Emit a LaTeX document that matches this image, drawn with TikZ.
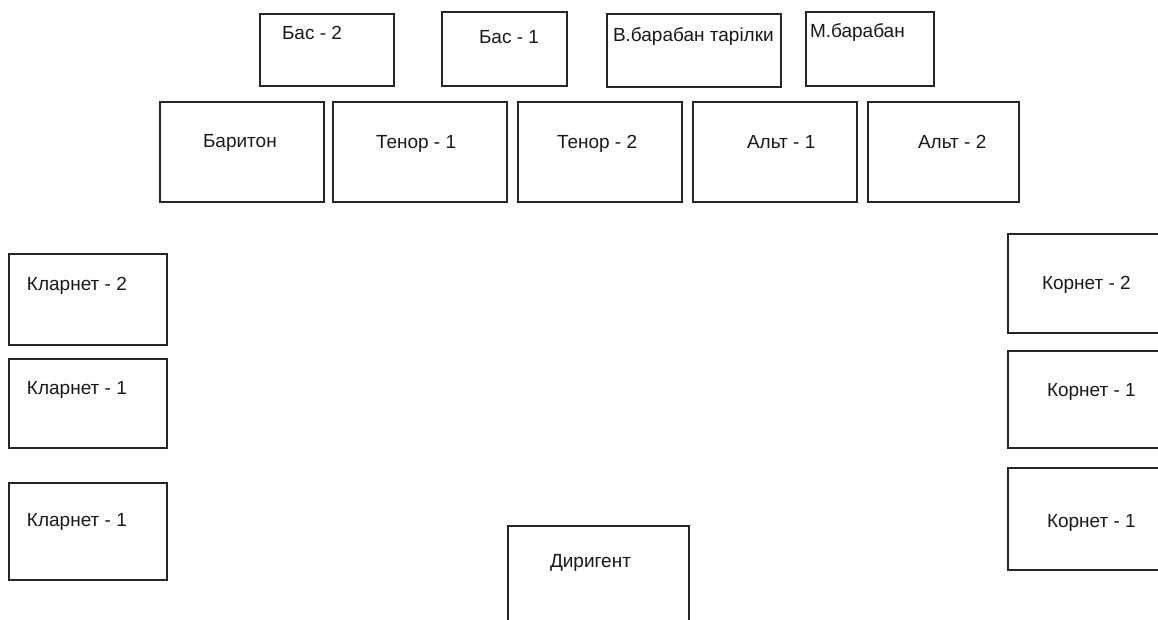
\documentclass[tikz,border=0pt]{standalone}
\usepackage{fontspec}
\setmainfont{Liberation Sans}
\tikzset{
  slot/.style={draw=black!85, line width=1.5pt, rectangle, inner sep=0pt, outer sep=0pt},
  lbl/.style={anchor=base west, inner sep=0pt, outer sep=0pt, text=black!90, font=\fontsize{19}{22}\selectfont}
}
\newcommand\slotbox[8]{%
  \node[slot, minimum width={(#4-#2)*1pt}, minimum height={(#5-#3)*1pt}] (#1) at ({(#2+#4)/2},{(#3+#5)/2}) {};
  \node[lbl] (#1-t) at (#6,#7) {#8};}
\begin{document}
\begin{tikzpicture}[x=1pt,y=-1pt]
\useasboundingbox (0,0) rectangle (1158,619);
\clip (0,0) rectangle (1158,619);
\fill[white] (0,0) rectangle (1158,619);
% top row
\slotbox{bas2}{260}{14}{394}{86}{282}{39}{Бас - 2}
\slotbox{bas1}{442}{12}{567}{86}{479}{43}{Бас - 1}
\slotbox{vbar}{607}{14}{781}{87}{613}{41}{В.барабан тарілки}
\slotbox{mbar}{806}{12}{934}{86}{810}{37}{М.барабан}
% second row
\slotbox{bar}{160}{102}{324}{202}{203}{147}{Баритон}
\slotbox{ten1}{333}{102}{507}{202}{376}{148}{Тенор - 1}
\slotbox{ten2}{518}{102}{682}{202}{557}{148}{Тенор - 2}
\slotbox{alt1}{693}{102}{857}{202}{747}{148}{Альт - 1}
\slotbox{alt2}{868}{102}{1019}{202}{918}{148}{Альт - 2}
% left column
\slotbox{kl2}{9}{254}{167}{345}{27}{290}{Кларнет - 2}
\slotbox{kl1}{9}{359}{167}{448}{27}{394}{Кларнет - 1}
\slotbox{kl1b}{9}{483}{167}{580}{27}{526}{Кларнет - 1}
% right column
\slotbox{ko2}{1008}{234}{1170}{333}{1042}{289}{Корнет - 2}
\slotbox{ko1}{1008}{351}{1170}{448}{1047}{396}{Корнет - 1}
\slotbox{ko1b}{1008}{468}{1170}{570}{1047}{527}{Корнет - 1}
% conductor
\slotbox{dir}{508}{526}{689}{640}{550}{567}{Диригент}
\end{tikzpicture}
\end{document}
